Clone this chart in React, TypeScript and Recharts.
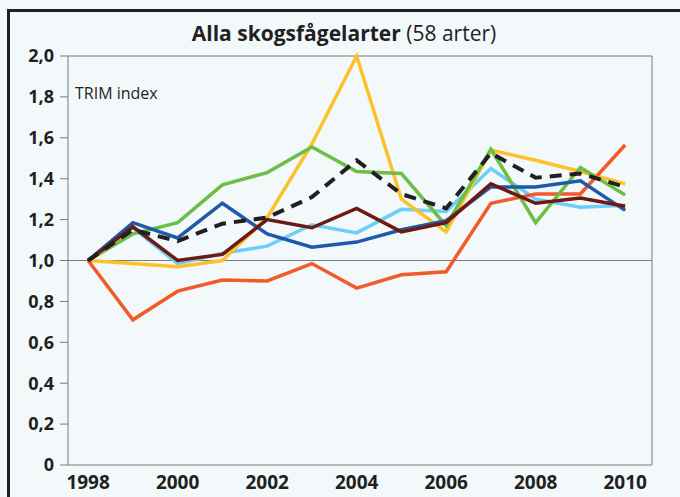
import { LineChart, Line, XAxis, YAxis, ReferenceLine } from "recharts";

const years = [1998, 1999, 2000, 2001, 2002, 2003, 2004, 2005, 2006, 2007, 2008, 2009, 2010];
const xTicks = [1998, 2000, 2002, 2004, 2006, 2008, 2010];
const yTicks = [0, 0.2, 0.4, 0.6, 0.8, 1.0, 1.2, 1.4, 1.6, 1.8, 2.0];

const redSeries = [1.0, 0.71, 0.85, 0.905, 0.9, 0.985, 0.865, 0.93, 0.945, 1.28, 1.325, 1.325, 1.565];
const yellowSeries = [1.0, 0.985, 0.97, 1.0, 1.21, 1.57, 2.0, 1.3, 1.14, 1.54, 1.49, 1.435, 1.375];
const greenSeries = [1.0, 1.13, 1.185, 1.37, 1.43, 1.555, 1.435, 1.425, 1.17, 1.545, 1.185, 1.455, 1.32];
const blueSeries = [1.0, 1.185, 1.11, 1.28, 1.13, 1.065, 1.09, 1.15, 1.195, 1.36, 1.36, 1.39, 1.245];
const lightBlueSeries = [1.0, 1.16, 0.985, 1.035, 1.07, 1.175, 1.135, 1.25, 1.24, 1.45, 1.3, 1.26, 1.27];
const brownSeries = [1.0, 1.165, 1.0, 1.03, 1.2, 1.16, 1.255, 1.14, 1.185, 1.375, 1.28, 1.305, 1.265];
const allSpecies = [1.0, 1.15, 1.095, 1.18, 1.21, 1.31, 1.49, 1.325, 1.255, 1.525, 1.405, 1.425, 1.36];

const data = years.map((year, i) => ({
    year,
    red: redSeries[i],
    yellow: yellowSeries[i],
    green: greenSeries[i],
    blue: blueSeries[i],
    lightBlue: lightBlueSeries[i],
    brown: brownSeries[i],
    all: allSpecies[i],
}));

const FONT = "'Open Sans', 'Noto Sans', sans-serif";
const AXIS_GRAY = "#7a7a7a";
const TEXT = "#231f20";

const SERIES = [
    { key: "lightBlue", color: "#6dcff6" },
    { key: "yellow", color: "#fdc12a" },
    { key: "red", color: "#f15a29" },
    { key: "green", color: "#6dbe45" },
    { key: "blue", color: "#1f5aa9" },
    { key: "brown", color: "#6d1a12" },
];

const fmt = (v: number) => (v === 0 ? "0" : v.toFixed(1).replace(".", ","));

export default function App() {
    return (
        <div
            style={{
                position: "fixed",
                left: 0,
                top: 0,
                width: 680,
                height: 497,
                background: "#f3f8fb",
                fontFamily: FONT,
                overflow: "hidden",
            }}
        >
            {/* frame */}
            <div
                style={{
                    position: "absolute",
                    left: 7,
                    top: 9,
                    width: 700,
                    height: 520,
                    borderLeft: `3px solid ${TEXT}`,
                    borderTop: `3px solid ${TEXT}`,
                }}
            />
            <div
                style={{
                    position: "absolute",
                    left: 8,
                    width: 672,
                    top: 19,
                    textAlign: "center",
                    fontSize: 21,
                    color: TEXT,
                    lineHeight: "28px",
                }}
            >
                <span style={{ fontWeight: 700 }}>Alla skogsfågelarter</span>
                <span> (58 arter)</span>
            </div>
            <div
                style={{
                    position: "absolute",
                    left: 75,
                    top: 82,
                    fontSize: 16,
                    color: TEXT,
                }}
            >
                TRIM index
            </div>
            <div style={{ position: "absolute", left: 0, top: 0 }}>
                <LineChart
                    width={680}
                    height={497}
                    data={data}
                    margin={{ top: 56, right: 28, bottom: 0, left: 8 }}
                >
                    <XAxis
                        dataKey="year"
                        type="number"
                        domain={[1997.55, 2010.6]}
                        ticks={xTicks}
                        tickLine={false}
                        axisLine={{ stroke: AXIS_GRAY }}
                        height={32}
                        tickMargin={5}
                        tick={{ fontSize: 19, fontWeight: 700, fill: TEXT, fontFamily: FONT }}
                    />
                    <YAxis
                        type="number"
                        domain={[0, 2]}
                        ticks={yTicks}
                        width={60}
                        tickSize={8}
                        tickMargin={6}
                        tickLine={{ stroke: AXIS_GRAY }}
                        axisLine={{ stroke: AXIS_GRAY }}
                        tickFormatter={fmt}
                        tick={{ fontSize: 18, fontWeight: 700, fill: TEXT, fontFamily: FONT }}
                    />
                    <ReferenceLine y={1} stroke={AXIS_GRAY} />
                    <ReferenceLine y={2} stroke={AXIS_GRAY} />
                    <ReferenceLine x={2010.6} stroke={AXIS_GRAY} />
                    {SERIES.map((s) => (
                        <Line
                            key={s.key}
                            dataKey={s.key}
                            type="linear"
                            stroke={s.color}
                            strokeWidth={3.5}
                            dot={false}
                            isAnimationActive={false}
                        />
                    ))}
                    <Line
                        dataKey="all"
                        type="linear"
                        stroke={TEXT}
                        strokeWidth={4}
                        strokeDasharray="12 8"
                        dot={false}
                        isAnimationActive={false}
                    />
                </LineChart>
            </div>
        </div>
    );
}
